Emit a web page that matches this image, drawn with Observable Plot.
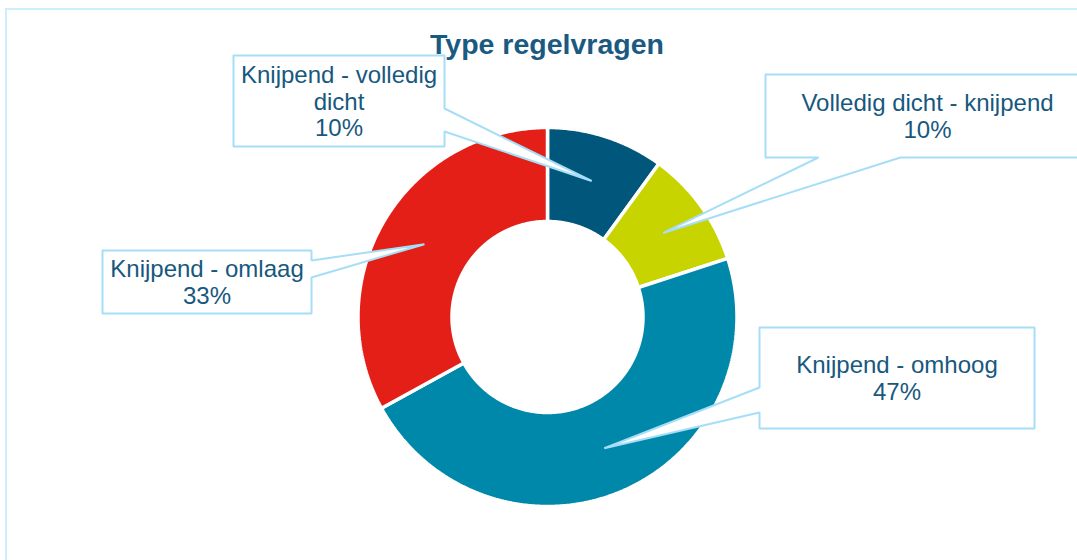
<!DOCTYPE html>
<html>
<head>
<meta charset="utf-8">
<script src="https://cdn.jsdelivr.net/npm/d3@7"></script>
<script src="https://cdn.jsdelivr.net/npm/@observablehq/plot@0.6"></script>
<style>
  html, body { margin: 0; padding: 0; background: #fff; }
  body { width: 1077px; height: 560px; overflow: hidden; position: relative; font-family: "Liberation Sans", Arial, sans-serif; }
  #frame { position: absolute; left: 5px; top: 8px; width: 2000px; height: 2000px; border: 2px solid #cdeefc; box-sizing: border-box; }
  #title { position: absolute; left: 0; width: 1094px; top: 28px; line-height: 33px; text-align: center; font-weight: bold; font-size: 28.5px; color: #1b5a80; }
  #chart { position: absolute; left: 0; top: 0; }
</style>
</head>
<body>
<div id="frame"></div>
<div id="chart"></div>
<div id="title">Type regelvragen</div>
<script>
// ---- data ----
const categories = ["Knijpend - volledig dicht", "Volledig dicht - knijpend", "Knijpend - omhoog", "Knijpend - omlaag"];
const values = [10, 10, 47, 33];
const colors = ["#00577b", "#c8d400", "#0088ab", "#e31f18"];

// ---- layout (positions of the callout boxes, in pixels) ----
const center = [547, 316.5];
const outerR = 189.5, innerR = 95.5, tipR = 143;
// box: [x0, y0, x1, y1], wedge side and the two attach points along that side, words per first line (0 = no wrap)
const callouts = [
  {box: [233, 55, 444, 146], side: "right", a: 108, b: 131, breakAfter: 3},
  {box: [765, 74, 1089, 157], side: "bottom", a: 900, b: 818, breakAfter: 0},
  {box: [759, 327, 1034, 428], side: "left", a: 412, b: 387, breakAfter: 0},
  {box: [102, 250, 311, 313], side: "right", a: 260, b: 277, breakAfter: 0}
];

const total = d3.sum(values);
const pie = d3.pie().sort(null).value(d => d)(values);

// slice polygons
const slicePts = [];
pie.forEach((p, i) => {
  const n = Math.max(8, Math.ceil((p.endAngle - p.startAngle) / (Math.PI / 360)));
  const pts = [];
  for (let k = 0; k <= n; k++) {
    const a = p.startAngle + (p.endAngle - p.startAngle) * k / n;
    pts.push([center[0] + outerR * Math.sin(a), center[1] - outerR * Math.cos(a)]);
  }
  for (let k = n; k >= 0; k--) {
    const a = p.startAngle + (p.endAngle - p.startAngle) * k / n;
    pts.push([center[0] + innerR * Math.sin(a), center[1] - innerR * Math.cos(a)]);
  }
  pts.push(pts[0]);
  pts.forEach(([x, y]) => slicePts.push({name: categories[i], x, y}));
});

// callout polygons
const calloutPts = [];
const labelData = [];
pie.forEach((p, i) => {
  const c = callouts[i];
  const mid = (p.startAngle + p.endAngle) / 2;
  const tip = [center[0] + tipR * Math.sin(mid), center[1] - tipR * Math.cos(mid)];
  const [x0, y0, x1, y1] = c.box;
  let pts;
  if (c.side === "right") pts = [[x0, y0], [x1, y0], [x1, c.a], tip, [x1, c.b], [x1, y1], [x0, y1], [x0, y0]];
  else if (c.side === "bottom") pts = [[x0, y0], [x1, y0], [x1, y1], [c.a, y1], tip, [c.b, y1], [x0, y1], [x0, y0]];
  else pts = [[x0, y0], [x1, y0], [x1, y1], [x0, y1], [x0, c.a], tip, [x0, c.b], [x0, y0]];
  pts.forEach(([x, y]) => calloutPts.push({id: i, x, y}));
  const words = categories[i].split(" ");
  const name = c.breakAfter ? words.slice(0, c.breakAfter).join(" ") + "\n" + words.slice(c.breakAfter).join(" ") : categories[i];
  labelData.push({x: (x0 + x1) / 2, y: (y0 + y1) / 2, label: name + "\n" + Math.round(values[i] / total * 100) + "%"});
});

const chart = Plot.plot({
  width: 1077,
  height: 560,
  margin: 0,
  x: {domain: [0, 1077], range: [0, 1077], axis: null},
  y: {domain: [0, 560], range: [0, 560], axis: null},
  color: {domain: categories, range: colors},
  style: {background: "transparent", overflow: "visible"},
  marks: [
    Plot.line(slicePts, {x: "x", y: "y", z: "name", fill: "name", stroke: "white", strokeWidth: 3.5, strokeLinejoin: "miter"}),
    Plot.line(calloutPts, {x: "x", y: "y", z: "id", fill: "white", stroke: "#a6def7", strokeWidth: 2, strokeLinejoin: "miter"}),
    Plot.text(labelData, {
      x: "x", y: "y", text: "label",
      lineHeight: 1.12,
      fontSize: 24,
      fill: "#17587e",
      fontFamily: "Liberation Sans, Arial, sans-serif"
    })
  ]
});
document.getElementById("chart").appendChild(chart);
</script>
</body>
</html>
